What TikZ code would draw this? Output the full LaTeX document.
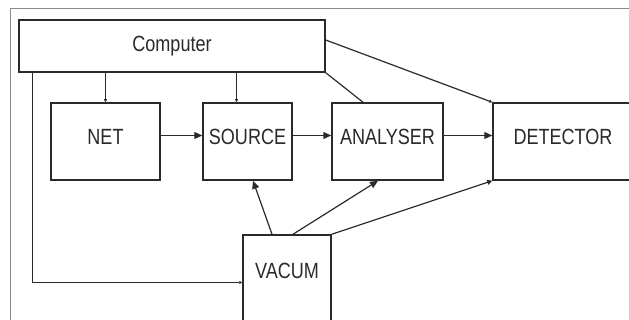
\documentclass[tikz,border=0pt]{standalone}
\usepackage{fontspec}
\setmainfont{Liberation Sans}[FakeStretch=0.82]
\usetikzlibrary{arrows.meta}
\definecolor{ink}{HTML}{2A2A2A}
\definecolor{frame}{HTML}{8A8A8A}
\tikzset{
  box/.style={draw=ink, line width=1.5pt, fill=white, inner sep=0pt, font=\fontsize{22}{24}\selectfont, text=ink},
  conn/.style={draw=ink, line width=1.2pt},
  bigtip/.style={conn, -{Triangle[length=8pt,width=7pt]}},
  smalltip/.style={conn, -{Triangle[length=3pt,width=3pt]}},
  midtip/.style={conn, -{Triangle[length=5pt,width=5pt]}},
}
\begin{document}
\begin{tikzpicture}[x=1pt,y=-1pt]
\useasboundingbox (0,0) rectangle (629,320);
\draw[frame, line width=1pt] (10,330) -- (10,9) -- (640,9);
\node[box, minimum width=306, minimum height=52] (comp) at (172,46) {Computer};
\node[box, minimum width=109, minimum height=77, text depth=10pt] (net) at (105.5,141.5) {NET};
\node[box, minimum width=89, minimum height=77, text depth=10pt] (src) at (247.5,141.5) {SOURCE};
\node[box, minimum width=111, minimum height=77, text depth=10pt] (ana) at (387.5,141.5) {ANALYSER};
\node[box, minimum width=140, minimum height=77, text depth=10pt] (det) at (563,141.5) {DETECTOR};
\node[box, minimum width=88, minimum height=95, text depth=23pt] (vac) at (287,282.5) {VACUM};
% computer outputs
\draw[smalltip] (net.north |- comp.south) -- (net.north);
\draw[smalltip] ([xshift=-11pt]src.north |- comp.south) -- ([xshift=-11pt]src.north);
\draw[conn] (comp.south east) -- ([xshift=-24.5pt]ana.north);
\draw[smalltip] ([yshift=6pt]comp.east) -- (det.north west);
\draw[smalltip] ([xshift=14pt]comp.south west) |- (vac.west);
% chain
\draw[bigtip] ([yshift=6pt]net.east) -- ([yshift=6pt]src.west);
\draw[bigtip] ([yshift=6pt]src.east) -- ([yshift=6pt]ana.west);
\draw[bigtip] ([yshift=6pt]ana.east) -- ([yshift=6pt]det.west);
% vacuum
\draw[bigtip] ([xshift=-15pt]vac.north) -- ([xshift=5.5pt]src.south);
\draw[bigtip] ([xshift=6pt]vac.north) -- ([xshift=-9.5pt]ana.south);
\draw[midtip] (vac.north east) -- (det.south west);
\end{tikzpicture}
\end{document}
